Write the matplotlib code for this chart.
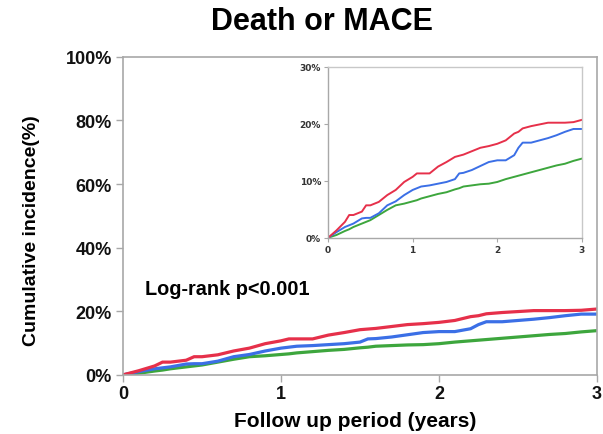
import matplotlib
matplotlib.use("Agg")
import matplotlib.pyplot as plt
import numpy as np

years = [0.0, 0.1, 0.2, 0.25, 0.3, 0.4, 0.45, 0.5, 0.6, 0.7, 0.8, 0.9, 1.0, 1.05, 1.1, 1.2, 1.3, 1.4, 1.5, 1.55,
         1.6, 1.7, 1.8, 1.9, 2.0, 2.1, 2.2, 2.25, 2.3, 2.4, 2.5, 2.6, 2.7, 2.8, 2.9, 3.0]
red = [0.0, 1.3, 2.8, 4.0, 4.0, 4.6, 5.7, 5.7, 6.3, 7.5, 8.4, 9.8, 10.7, 11.3, 11.3, 11.3, 12.5, 13.3, 14.2, 14.4,
       14.6, 15.2, 15.8, 16.1, 16.5, 17.1, 18.3, 18.6, 19.2, 19.6, 19.9, 20.2, 20.2, 20.2, 20.3, 20.7]
blue = [0.0, 1.0, 1.9, 2.2, 2.5, 3.4, 3.5, 3.5, 4.3, 5.7, 6.4, 7.5, 8.4, 8.7, 9.0, 9.2, 9.5, 9.8, 10.3, 11.3,
        11.4, 11.9, 12.6, 13.3, 13.6, 13.6, 14.5, 15.8, 16.7, 16.7, 17.1, 17.5, 18.0, 18.6, 19.1, 19.1]
green = [0.0, 0.5, 1.2, 1.5, 1.9, 2.5, 2.8, 3.1, 4.0, 4.9, 5.7, 6.0, 6.4, 6.6, 6.9, 7.3, 7.7, 8.0, 8.5, 8.7,
         9.0, 9.2, 9.4, 9.5, 9.8, 10.3, 10.7, 10.9, 11.1, 11.5, 11.9, 12.3, 12.7, 13.0, 13.5, 13.9]

main_yticks = [0, 20, 40, 60, 80, 100]
inset_yticks = [0, 10, 20, 30]
xticks = [0, 1, 2, 3]

RED = "#e6304a"
BLUE = "#3b6fe6"
GREEN = "#3da63d"
SPINE = "#a8a8a8"

plt.rcParams['font.family'] = ['Liberation Sans', 'DejaVu Sans']

fig = plt.figure(figsize=(6.03, 4.35), dpi=100)
ax = fig.add_axes([0.204, 0.136, 0.786, 0.731])
for c, y in [(GREEN, green), (BLUE, blue), (RED, red)]:
    ax.plot(years, y, color=c, lw=2.3, solid_joinstyle='miter')
ax.set_xlim(0, 3)
ax.set_ylim(0, 100)
ax.set_xticks(xticks)
ax.set_yticks(main_yticks)
ax.set_yticklabels([f"{v}%" for v in main_yticks])
ax.set_xticklabels([str(v) for v in xticks])
for s in ax.spines.values():
    s.set_color(SPINE)
    s.set_linewidth(1.2)
ax.tick_params(axis='both', colors=SPINE, length=5, width=1, labelcolor='#111111', labelsize=13)
ax.tick_params(axis='y', pad=3)
ax.tick_params(axis='x', pad=2)
for lab in ax.get_xticklabels() + ax.get_yticklabels():
    lab.set_fontweight('bold')
ax.set_xlabel("Follow up period (years)", fontsize=15, fontweight='bold')
ax.xaxis.set_label_coords(0.489, -0.113)
ax.set_ylabel("Cumulative incidence(%)", fontsize=14, fontweight='bold')
ax.yaxis.set_label_coords(-0.175, 0.456)
ax.text(0.046, 0.27, "Log-rank p<0.001", transform=ax.transAxes, fontsize=14.3, fontweight='bold', va='center')

fig.text(0.534, 0.949, "Death or MACE", ha='center', va='center', fontsize=22, fontweight='bold')

ins = fig.add_axes([0.544, 0.451, 0.421, 0.393])
for c, y in [(GREEN, green), (BLUE, blue), (RED, red)]:
    ins.plot(years, y, color=c, lw=1.4)
ins.set_xlim(0, 3)
ins.set_ylim(0, 30)
ins.set_xticks(xticks)
ins.set_yticks(inset_yticks)
ins.set_yticklabels([f"{v}%" for v in inset_yticks])
ins.set_xticklabels([str(v) for v in xticks])
for s in ins.spines.values():
    s.set_color("#c8c8c8")
    s.set_linewidth(1.0)
ins.spines['left'].set_color(SPINE)
ins.spines['bottom'].set_color(SPINE)
ins.tick_params(axis='both', colors=SPINE, length=3, width=0.8, labelcolor='#333333', labelsize=6.5, pad=2)
for lab in ins.get_xticklabels() + ins.get_yticklabels():
    lab.set_fontweight('bold')
    lab.set_family('DejaVu Sans')

fig.savefig("out.png", dpi=100)
